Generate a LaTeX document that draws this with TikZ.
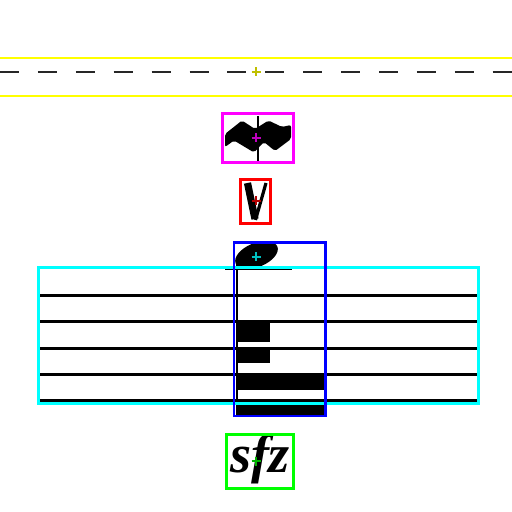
\documentclass[tikz,border=0pt]{standalone}
\usepackage{tikz}
\usepackage{fontspec}
\usetikzlibrary{positioning}
\newfontfamily\dynfont{Liberation Serif}

\definecolor{boxyellow}{RGB}{255,255,0}
\definecolor{boxmagenta}{RGB}{255,0,255}
\definecolor{boxred}{RGB}{255,0,0}
\definecolor{boxcyan}{RGB}{0,255,255}
\definecolor{boxblue}{RGB}{0,0,255}
\definecolor{boxgreen}{RGB}{0,255,0}

\begin{document}
\begin{tikzpicture}[
      x=0.5pt, y=-0.5pt,
      bbox/.style={line width=1.1pt},
      stafline/.style={line width=1.5pt, black},
      glyph/.style={fill=black, draw=none},
      centre/.style={line width=1pt}
    ]
      \useasboundingbox (0,0) rectangle (512,512);
      \fill[white] (0,0) rectangle (512,512);

      % Staff
      \foreach \y in {295.5,321.7,348,374.3,400.3}
        \draw[stafline] (39,\y) -- (478,\y);
      \draw[line width=1.3pt] (225,269) -- (292,269);

      % Note head, stem and blocks
      \fill[rotate around={22:(256.5,255)}] (256.5,255) ellipse [x radius=22.5, y radius=12];
      \draw[line width=0.9pt] (237,258) -- (237,416);
      \fill[glyph] (237,323.3) rectangle (270,341.7);
      \fill[glyph] (237,348.3) rectangle (270,363.3);
      \fill[glyph] (237,373.3) rectangle (323.5,390);
      \fill[glyph] (237,403) rectangle (325,416.5);

      % Mordent
      \fill[glyph, rounded corners=1pt] (225,134) -- (242,120.5) -- (255,129) -- (268.5,120.5) -- (282,127) -- (291,125)
        -- (291,139) -- (275,151) -- (264,142) -- (254,152.5) -- (234,140.5) -- (225,147) -- cycle;
      \draw[line width=1pt] (257.7,116) -- (257.7,162);

      % Up bow
      \draw[line width=3.6pt] (247.5,183) -- (255,219);
      \draw[line width=1.6pt] (266,183) -- (255.5,220);

      % Dynamic
      \node[inner sep=0pt, font=\dynfont\fontsize{27}{27}\selectfont\bfseries\itshape] (dyn) at (260,459) {sfz};

      % Dashed line
      \draw[line width=1.3pt, dash pattern=on 9.5pt off 9.45pt, black!85] (0,72) -- (512,72);

      % Boxes
      \draw[bbox, boxyellow] (-2,58) rectangle (514,96);
      \draw[bbox, boxmagenta] (222.5,113.5) rectangle (293.5,162.5);
      \draw[bbox, boxred] (240.5,179.5) rectangle (270.5,223.5);
      \draw[bbox, boxcyan] (38.5,267.5) rectangle (478.5,403.5);
      \draw[bbox, boxblue] (234,242.5) rectangle (325.5,416);
      \draw[bbox, boxgreen] (226.5,434.5) rectangle (293.5,488.5);

      % Centre marks
      \foreach \x/\y/\c in {256/72/boxyellow!75!black, 256/138/boxmagenta!75!black, 256/201/boxred!70!black,
                             256/257/boxcyan!75!black, 256/461/boxgreen!70!black}
        \draw[centre, \c] (\x-4.5,\y) -- (\x+4.5,\y) (\x,\y-4.5) -- (\x,\y+4.5);
    \end{tikzpicture}
\end{document}
